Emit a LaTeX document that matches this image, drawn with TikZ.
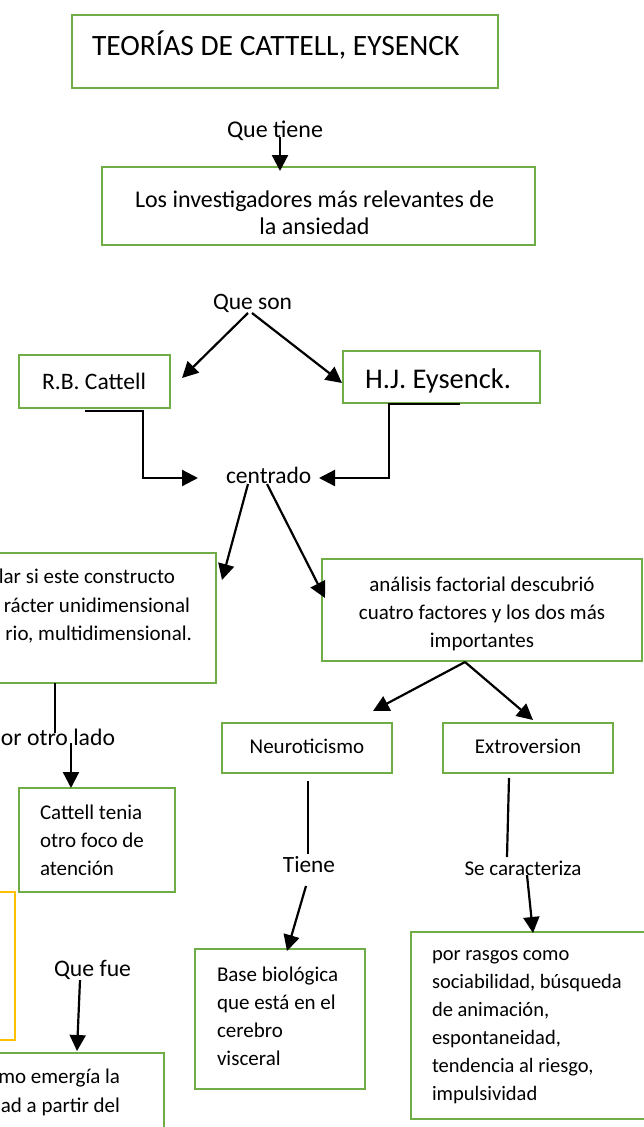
\documentclass[tikz,border=0pt]{standalone}
\usepackage{fontspec}
\setmainfont{Carlito}
\usetikzlibrary{arrows.meta,fit}
\newcommand\fsz[1]{\fontsize{#1}{28}\selectfont}
\definecolor{bxgreen}{HTML}{70AD47}
\definecolor{bxyellow}{HTML}{FFC000}
\tikzset{
  gbox/.style={draw=bxgreen,line width=2pt,inner sep=0pt,fill=none},
  ybox/.style={draw=bxyellow,line width=2pt,inner sep=0pt,fill=none},
  txt/.style={inner sep=0pt,outer sep=0pt,text=black},
  arr/.style={line width=2.2pt,draw=black,-{Triangle[length=16pt,width=16pt]}},
  ln/.style={line width=2.2pt,draw=black},
}
\begin{document}
\begin{tikzpicture}[x=1pt,y=-1pt]
\clip (0,0) rectangle (644,1127);
\fill[white] (0,0) rectangle (644,1127);
% boxes
\node[gbox,fit={(72,15) (498,88)}] (title) {};
\node[gbox,fit={(102,167) (535,245)}] (inv) {};
\node[gbox,fit={(19,355) (170,408)}] (cat) {};
\node[gbox,fit={(343,351) (540,403)}] (eys) {};
\node[gbox,fit={(-10,553) (216,683)}] (lbox) {};
\node[gbox,fit={(322,559) (642,661)}] (ana) {};
\node[gbox,fit={(222,723) (392,773)}] (neu) {};
\node[gbox,fit={(443,723) (613,773)}] (ext) {};
\node[gbox,fit={(19,788) (175,892)}] (foco) {};
\node[ybox,fit={(-10,892) (15,1040)}] (yel) {};
\node[gbox,fit={(195,949) (365,1089)}] (base) {};
\node[gbox,fit={(411,932) (660,1119)}] (rasg) {};
\node[gbox,fit={(-10,1053) (164,1140)}] (emer) {};
% texts
\node[txt,anchor=base west,font=\fsz{29.5}] (ttitle) at (92,55) {TEORÍAS DE CATTELL, EYSENCK};
\node[txt,anchor=base west,font=\fsz{24}] (qtiene) at (227,137) {Que tiene};
\node[txt,anchor=base,font=\fsz{24}] (tinv1) at (314.5,207) {Los investigadores más relevantes de};
\node[txt,anchor=base,font=\fsz{24}] (tinv2) at (314.5,234) {la ansiedad};
\node[txt,anchor=base west,font=\fsz{23.5}] (qson) at (213,309) {Que son};
\node[txt,anchor=base west,font=\fsz{23.6}] (tcat) at (42,389) {R.B. Cattell};
\node[txt,anchor=base west,font=\fsz{28.5}] (teys) at (365,388) {H.J. Eysenck.};
\node[txt,anchor=base west,font=\fsz{23.5}] (centr) at (226,483) {centrado};
\node[txt,anchor=base east,font=\fsz{21}] (tl1) at (175,583) {lar si este constructo};
\node[txt,anchor=base east,font=\fsz{21}] (tl2) at (190,612) {rácter unidimensional};
\node[txt,anchor=base east,font=\fsz{21}] (tl3) at (192,640) {rio, multidimensional.};
\node[txt,anchor=base,font=\fsz{21}] (ta1) at (482,591) {análisis factorial descubrió};
\node[txt,anchor=base,font=\fsz{21}] (ta2) at (482,619) {cuatro factores y los dos más};
\node[txt,anchor=base,font=\fsz{21}] (ta3) at (482,647) {importantes};
\node[txt,anchor=base west,font=\fsz{23.7}] (otro) at (1,745) {or otro lado};
\node[txt,anchor=base,font=\fsz{21}] (tneu) at (307,753) {Neuroticismo};
\node[txt,anchor=base,font=\fsz{21}] (text) at (528,753) {Extroversion};
\node[txt,anchor=base west,font=\fsz{21}] (tf1) at (40,819) {Cattell tenia};
\node[txt,anchor=base west,font=\fsz{21}] (tf2) at (40,847) {otro foco de};
\node[txt,anchor=base west,font=\fsz{21}] (tf3) at (40,875) {atención};
\node[txt,anchor=base,font=\fsz{23.3}] (tiene) at (309,872) {Tiene};
\node[txt,anchor=base,font=\fsz{21}] (secar) at (523,875) {Se caracteriza};
\node[txt,anchor=base west,font=\fsz{23.7}] (qfue) at (54,976) {Que fue};
\node[txt,anchor=base west,font=\fsz{21}] (tb1) at (217,981) {Base biológica};
\node[txt,anchor=base west,font=\fsz{21}] (tb2) at (217,1009) {que está en el};
\node[txt,anchor=base west,font=\fsz{21}] (tb3) at (217,1037) {cerebro};
\node[txt,anchor=base west,font=\fsz{21}] (tb4) at (217,1065) {visceral};
\node[txt,anchor=base west,font=\fsz{20.5}] (tr1) at (432,960) {por rasgos como};
\node[txt,anchor=base west,font=\fsz{20.5}] (tr2) at (432,988) {sociabilidad, búsqueda};
\node[txt,anchor=base west,font=\fsz{20.5}] (tr3) at (432,1016) {de animación,};
\node[txt,anchor=base west,font=\fsz{20.5}] (tr4) at (432,1044) {espontaneidad,};
\node[txt,anchor=base west,font=\fsz{20.5}] (tr5) at (432,1072) {tendencia al riesgo,};
\node[txt,anchor=base west,font=\fsz{20.5}] (tr6) at (432,1100) {impulsividad};
\node[txt,anchor=base east,font=\fsz{21}] (te1) at (120,1083) {mo emergía la};
\node[txt,anchor=base east,font=\fsz{21}] (te2) at (120,1112) {ad a partir del};
% connector end points
\coordinate (c1a) at (280,137); \coordinate (c1b) at (280,171);
\coordinate (c2a) at (248,313); \coordinate (c2b) at (182,378);
\coordinate (c3a) at (252,313); \coordinate (c3b) at (342,383);
\coordinate (c4a) at (85,411); \coordinate (c4k) at (143,478); \coordinate (c4b) at (198,478);
\coordinate (c5a) at (460,404); \coordinate (c5k) at (389,478); \coordinate (c5b) at (319,478);
\coordinate (c6a) at (248,484); \coordinate (c6b) at (222,580);
\coordinate (c7a) at (267,484); \coordinate (c7b) at (325,598);
\coordinate (c8a) at (55,683); \coordinate (c8b) at (55,733);
\coordinate (c9a) at (71,743); \coordinate (c9b) at (71,788);
\coordinate (c10a) at (465,662); \coordinate (c10b) at (373,711);
\coordinate (c11b) at (533,720);
\coordinate (c12a) at (308,781); \coordinate (c12b) at (308,854);
\coordinate (c13a) at (306,886); \coordinate (c13b) at (287,951);
\coordinate (c14a) at (509,778); \coordinate (c14b) at (507,857);
\coordinate (c15a) at (527,875); \coordinate (c15b) at (533,933);
\coordinate (c16a) at (80,980); \coordinate (c16b) at (77,1051);
% connectors
\draw[arr] (c1a) -- (c1b);
\draw[arr] (c2a) -- (c2b);
\draw[arr] (c3a) -- (c3b);
\draw[arr] (c4a) -| (c4k) -- (c4b);
\draw[arr] (c5a) -| (c5k) -- (c5b);
\draw[arr] (c6a) -- (c6b);
\draw[arr] (c7a) -- (c7b);
\draw[ln] (c8a) -- (c8b);
\draw[arr] (c9a) -- (c9b);
\draw[arr] (c10a) -- (c10b);
\draw[arr] (c10a) -- (c11b);
\draw[ln] (c12a) -- (c12b);
\draw[arr] (c13a) -- (c13b);
\draw[ln] (c14a) -- (c14b);
\draw[arr] (c15a) -- (c15b);
\draw[arr] (c16a) -- (c16b);
\end{tikzpicture}
\end{document}
